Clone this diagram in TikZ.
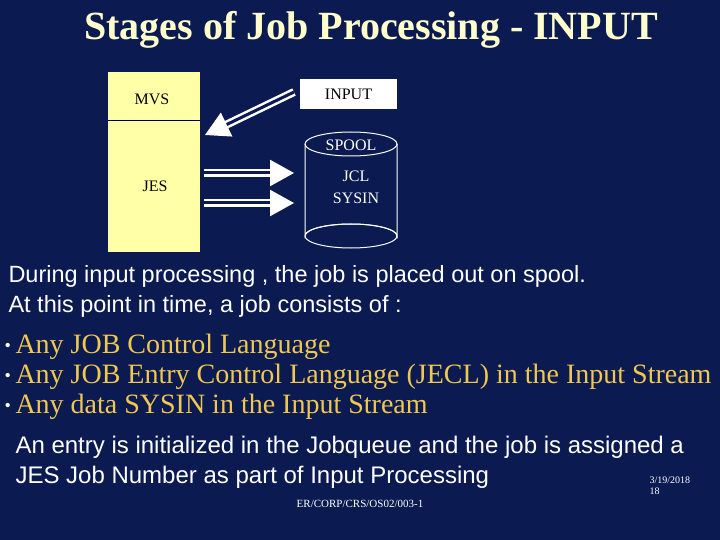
\documentclass[tikz,border=0pt]{standalone}
\usepackage{fontspec}
\setmainfont{Liberation Serif}
\newfontfamily\arialf{Liberation Sans}
\usetikzlibrary{arrows.meta}
\definecolor{bg}{HTML}{0B1A50}
\definecolor{ttl}{HTML}{FFFFCC}
\definecolor{gold}{HTML}{F0C850}
\definecolor{boxy}{HTML}{FFFFA8}
\tikzset{
 dbl/.style={white, line width=2.5pt, double=bg, double distance=3pt,
   -{Triangle[width=26pt,length=24pt,fill=white]}},
 lbl/.style={font=\fontsize{16}{18}\selectfont, text=black},
 arial/.style={font=\arialf\fontsize{23.5}{30}\selectfont, text=white, anchor=north west, align=left},
 bul/.style={font=\fontsize{28}{30}\selectfont, text=gold, anchor=north west, align=left}
}
\newcommand{\bdt}{\raisebox{2pt}{\fontsize{18}{18}\selectfont\color{white}\textbullet}\,}
\begin{document}
\begin{tikzpicture}[x=1pt,y=-1pt]
\fill[bg] (0,0) rectangle (720,540);
\useasboundingbox (0,0) rectangle (720,540);
\node[font=\bfseries\fontsize{40}{42}\selectfont, text=ttl] (title) at (371,30) {Stages of Job Processing - INPUT};
\fill[boxy] (108,72) rectangle (200,252);
\draw[black] (108,120) -- (200,120);
\node[lbl] (mvs) at (152,99) {MVS};
\node[lbl] (jes) at (155,186) {JES};
\node[fill=white, minimum width=97pt, minimum height=30pt, lbl, inner sep=0pt] (inp) at (348.5,94) {INPUT};
\draw[white, line width=1pt] (305,144) -- (305,236) arc[start angle=180, end angle=360, x radius=46, y radius=12] -- (397,144);
\draw[white, line width=1pt] (351,144) ellipse[x radius=46, y radius=12];
\draw[white, line width=1pt] (351,236) ellipse[x radius=46, y radius=12];
\node[lbl, text=white] (sp) at (351,145) {SPOOL};
\node[lbl, text=white, align=center, font=\fontsize{16}{22}\selectfont] (jcl) at (356,187) {JCL\\SYSIN};
\coordinate (a1s) at (294,92); \coordinate (a1e) at (205,135);
\draw[dbl] (a1s) -- (a1e);
\coordinate (a2s) at (204,173); \coordinate (a2e) at (294,173);
\draw[dbl] (a2s) -- (a2e);
\coordinate (a3s) at (204,203); \coordinate (a3e) at (294,203);
\draw[dbl] (a3s) -- (a3e);
\node[arial] (p1) at (5,262) {During input processing , the job is placed out on spool.\\At this point in time, a job consists of :};
\node[bul] (b) at (1,331) {\bdt Any JOB Control Language\\\bdt Any JOB Entry Control Language (JECL) in the Input Stream\\\bdt Any data SYSIN in the Input Stream};
\node[arial, font=\arialf\fontsize{24}{30}\selectfont] (p2) at (12,433) {An entry is initialized in the Jobqueue and the job is assigned a\\JES Job Number as part of Input Processing};
\node[text=white, font=\fontsize{11}{12}\selectfont] (ft) at (360,504) {ER/CORP/CRS/OS02/003-1};
\node[text=white, font=\fontsize{10}{11}\selectfont, align=left, anchor=north west] (dt) at (646,473) {3/19/2018\\18};
\end{tikzpicture}
\end{document}
